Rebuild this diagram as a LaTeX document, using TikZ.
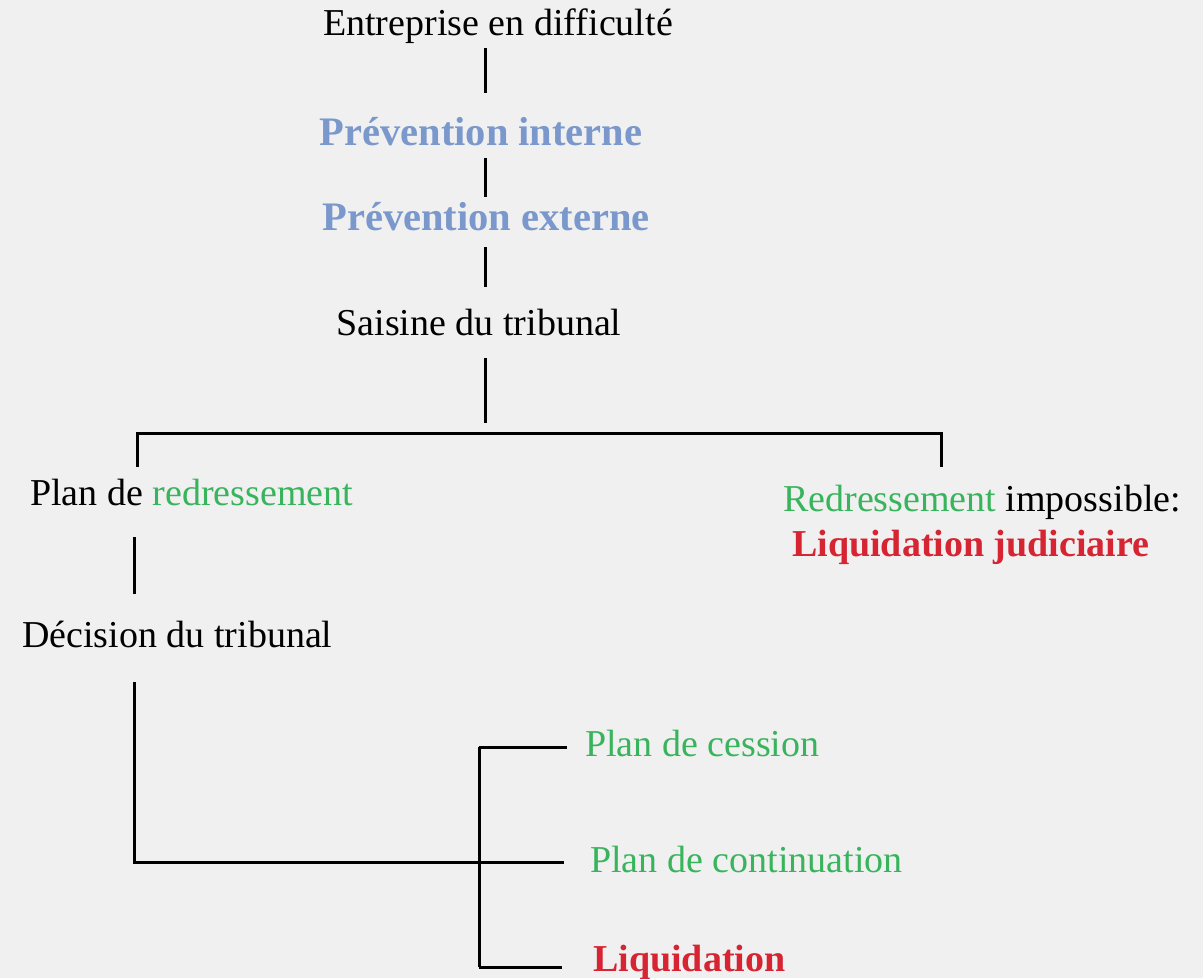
\documentclass[tikz,border=0pt]{standalone}
\usepackage{fontspec}
\setmainfont{Liberation Serif}
\usepackage{tikz}
\usepackage{xcolor}

\definecolor{prevblue}{RGB}{122,152,204}
\definecolor{redgreen}{RGB}{56,180,92}
\definecolor{liqred}{RGB}{214,36,50}
\definecolor{paper}{RGB}{240,240,240}

\begin{document}
\begin{tikzpicture}[x=1pt, y=-1pt,
		every node/.style={inner sep=0pt, text height=26pt, text depth=8pt, font=\fontsize{38}{46}\selectfont},
		prevtext/.style={text=prevblue, font=\fontsize{40.5}{48}\selectfont\bfseries},
		liqtext/.style={text=liqred, font=\fontsize{38}{46}\selectfont\bfseries},
		link/.style={line width=3pt, black}]
		\fill[paper] (0,0) rectangle (1203,978);
		\useasboundingbox (0,0) rectangle (1203,978);

		\node[anchor=base] (ent) at (498,35) {Entreprise en difficulté};
		\node[anchor=base, prevtext] (pint) at (481,145) {Prévention interne};
		\node[anchor=base, prevtext] (pext) at (486,230) {Prévention externe};
		\node[anchor=base] (sais) at (479,335) {Saisine du tribunal};
		\node[anchor=base west] (pred) at (30,505) {Plan de \textcolor{redgreen}{redressement}};
		\node[anchor=base west] (redimp) at (783,511) {\textcolor{redgreen}{Redressement} impossible:};
		\node[anchor=base west, liqtext] (liqj) at (792,556) {Liquidation judiciaire};
		\node[anchor=base west] (dec) at (22,647) {Décision du tribunal};
		\node[anchor=base west, text=redgreen] (cess) at (585,756) {Plan de cession};
		\node[anchor=base west, text=redgreen] (cont) at (590,872) {Plan de continuation};
		\node[anchor=base west, liqtext] (liq) at (593,971) {Liquidation};

		\coordinate (trunk) at (485,0);
		\coordinate (barL) at (137,433);
		\coordinate (barR) at (941,433);
		\coordinate (stemL) at (134,0);
		\coordinate (join) at (479,862);
		\coordinate (forkB) at (479,967);

		\draw[link, shorten <=5pt, shorten >=26pt] (ent.south -| trunk) -- (pint.north -| trunk);
		\draw[link, shorten <=5pt, shorten >=7pt] (pint.south -| trunk) -- (pext.north -| trunk);
		\draw[link, shorten <=9pt, shorten >=22pt] (pext.south -| trunk) -- (sais.north -| trunk);
		\draw[link, shorten <=15pt, shorten >=10pt] (sais.south -| trunk) -- (barL -| trunk);
		\draw[link, shorten <=12pt, shorten >=18pt] (pred.north -| barL) -- (barL) -- (barR) -- (redimp.north -| barR);
		\draw[link, shorten <=24pt, shorten >=27pt] (pred.south -| stemL) -- (dec.north -| stemL);
		\draw[link, shorten <=27pt] (dec.south -| stemL) |- (join);
		\draw[link] (cess.west -| join) -- (forkB);
		\draw[link, shorten >=18pt] (cess.west -| join) -- (cess.west);
		\draw[link, shorten >=26pt] (join) -- (cont.west |- join);
		\draw[link, shorten >=31pt] (forkB) -- (liq.west |- forkB);
\end{tikzpicture}
\end{document}
